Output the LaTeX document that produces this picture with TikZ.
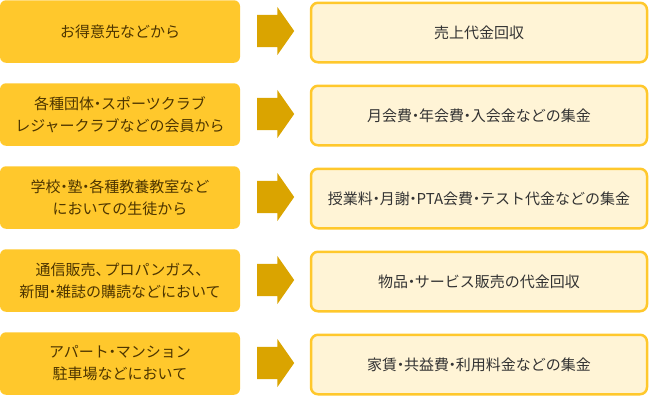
\documentclass[tikz,border=0pt]{standalone}
\usepackage{fontspec}
\usepackage{xcolor}
\setmainfont{Noto Sans CJK JP}
\usetikzlibrary{shapes.arrows}
\definecolor{srcfill}{HTML}{FFC82C}
\definecolor{srctext}{HTML}{4D3500}
\definecolor{arrowfill}{HTML}{DAA400}
\definecolor{dstfill}{HTML}{FFF4D6}
\definecolor{dstline}{HTML}{FFC82C}
\definecolor{dsttext}{HTML}{333333}
% narrow middle dot and comma as in the picture
\newcommand{\nakaguro}{\kern-0.27em・\kern-0.27em}
\newcommand{\touten}{、\kern-0.4em}

\begin{document}
\begin{tikzpicture}[x=1pt,y=-1pt,
    src/.style={rectangle,rounded corners=6pt,fill=srcfill,text=srctext,align=center,
        minimum width=240pt,minimum height=62.5pt,inner sep=0pt,font=\fontsize{15}{22}\selectfont},
    dst/.style={rectangle,rounded corners=7pt,draw=dstline,line width=2.5pt,fill=dstfill,text=dsttext,
        align=center,minimum width=336pt,minimum height=59.5pt,inner sep=0pt,font=\fontsize{15}{22}\selectfont},
    go/.style={single arrow,fill=arrowfill,inner xsep=0pt,inner ysep=16pt,minimum height=37pt,anchor=tail,
        single arrow head extend=8pt,single arrow head indent=0pt,single arrow tip angle=110}]
    \useasboundingbox (0,0) rectangle (650,400);

            \node (l1) at (120,31.5) [src] {お得意先などから};
            \node (l2) at (120,114.5) [src] {各種団体\nakaguro スポーツクラブ\\レジャークラブなどの会員から};
            \node (l3) at (120,197.5) [src] {学校\nakaguro 塾\nakaguro 各種教養教室など\\においての生徒から};
            \node (l4) at (120,280.5) [src] {通信販売\touten プロパンガス\touten\\新聞\nakaguro 雑誌の購読などにおいて};
            \node (l5) at (120,363.5) [src] {アパート\nakaguro マンション\\駐車場などにおいて};

            \node (a1) at (257,31) [go] {};
            \node (a2) at (257,114) [go] {};
            \node (a3) at (257,197) [go] {};
            \node (a4) at (257,280) [go] {};
            \node (a5) at (257,363) [go] {};

            \node (r1) at (479,32.5) [dst] {売上代金回収};
            \node (r2) at (479,115.5) [dst] {月会費\nakaguro 年会費\nakaguro 入会金などの集金};
            \node (r3) at (479,198.5) [dst] {授業料\nakaguro 月謝\nakaguro PTA会費\nakaguro テスト代金などの集金};
            \node (r4) at (479,281.5) [dst] {物品\nakaguro サービス販売の代金回収};
            \node (r5) at (479,364.5) [dst] {家賃\nakaguro 共益費\nakaguro 利用料金などの集金};

        \end{tikzpicture}
\end{document}
